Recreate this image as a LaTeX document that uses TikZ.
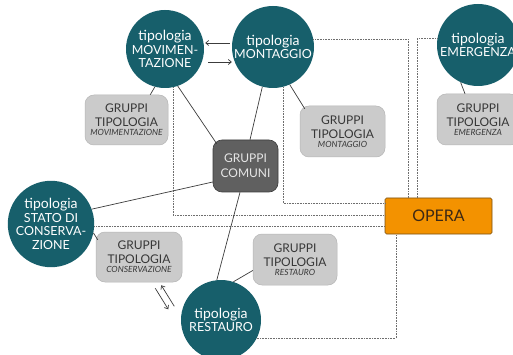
\documentclass[tikz,border=0pt]{standalone}
\usepackage{fontspec}
\setmainfont{Lato}
\usetikzlibrary{arrows.meta}
\definecolor{tealc}{RGB}{23,95,107}
\definecolor{boxgray}{RGB}{203,203,203}
\definecolor{boxedge}{RGB}{182,182,182}
\definecolor{boxtext}{RGB}{55,55,55}
\definecolor{comfill}{RGB}{96,96,96}
\definecolor{comedge}{RGB}{60,60,60}
\definecolor{comtext}{RGB}{230,230,230}
\definecolor{operafill}{RGB}{243,146,0}
\definecolor{operaedge}{RGB}{120,80,20}
\definecolor{operatext}{RGB}{60,40,20}
\definecolor{linkc}{RGB}{60,60,60}
\definecolor{dotc}{RGB}{110,110,110}
\newcommand{\subtxt}[1]{{\fontsize{8.5}{9}\selectfont\itshape #1}}
\newcommand{\tipo}{{\fontsize{14}{14}\selectfont tipologia}}
\begin{document}
\begin{tikzpicture}[x=1pt,y=-1pt,
  circ/.style={circle, fill=tealc, text=white, align=center, inner sep=0pt,
    font=\fontsize{12.5}{13.5}\selectfont},
  gbox/.style={rectangle, rounded corners=9pt, fill=boxgray, draw=boxedge, line width=0.5pt,
    text=boxtext, align=center, inner sep=0pt, font=\fontsize{12}{14}\selectfont},
  combox/.style={rectangle, rounded corners=9pt, fill=comfill, draw=comedge, line width=0.6pt,
    text=comtext, align=center, inner sep=0pt, font=\fontsize{12}{15}\selectfont},
  operabox/.style={rectangle, rounded corners=1.5pt, fill=operafill, draw=operaedge, line width=0.6pt,
    text=operatext, inner sep=0pt, font=\fontsize{16}{18}\selectfont},
  link/.style={draw=linkc, line width=0.7pt},
  dots/.style={draw=dotc, line width=0.5pt, dash pattern=on 0.8pt off 0.8pt},
  arr/.style={link, -{Straight Barb[length=3pt,width=5pt]}}
]
\useasboundingbox (0,0) rectangle (513,355);
\clip (0,0) rectangle (513,355);
\fill[white] (0,0) rectangle (513,355);

% circles
\node[circ, minimum size=78pt] (mov) at (165,49) {\tipo\\MOVIMEN-\\TAZIONE};
\node[circ, minimum size=82pt] (mont) at (273,47) {\tipo\\MONTAGGIO};
\node[circ, minimum size=82pt] (emer) at (478,45) {\tipo\\EMERGENZA};
\node[circ, minimum size=78pt] (stato) at (51,224) {\tipo\\STATO DI\\CONSERVA-\\ZIONE};
\node[circ, minimum size=80pt] (rest) at (221,320) {\tipo\\RESTAURO};

% boxes
\node[gbox, minimum width=83pt, minimum height=50pt] (movbox) at (126.5,120)
  {GRUPPI\\TIPOLOGIA\\[-5pt]\subtxt{MOVIMENTAZIONE}};
\node[gbox, minimum width=85pt, minimum height=51pt] (montbox) at (342.5,131.5)
  {GRUPPI\\TIPOLOGIA\\[-5pt]\subtxt{MONTAGGIO}};
\node[gbox, minimum width=82pt, minimum height=51pt] (emerbox) at (478,119.5)
  {GRUPPI\\TIPOLOGIA\\[-5pt]\subtxt{EMERGENZA}};
\node[gbox, minimum width=86pt, minimum height=50pt] (consbox) at (139,257)
  {GRUPPI\\TIPOLOGIA\\[-5pt]\subtxt{CONSERVAZIONE}};
\node[gbox, minimum width=84pt, minimum height=51pt] (restbox) at (295,259.5)
  {GRUPPI\\TIPOLOGIA\\[-5pt]\subtxt{RESTAURO}};
\node[combox, minimum width=65pt, minimum height=52pt] (comuni) at (245.5,166) {GRUPPI\\COMUNI};
\node[operabox, minimum width=107pt, minimum height=36pt] (opera) at (438.5,216) {OPERA};

% dotted connections to OPERA
\draw[dots] (mont.11) -| ([xshift=-30.5pt]opera.north);
\draw[dots] (emer.171.6) -| ([xshift=-21.5pt]opera.north);
\draw[dots] (mont.-76) |- ([yshift=13pt]opera.west);
\draw[dots] (mov.-78) |- ([yshift=1pt]opera.west);
\draw[dots] (stato.-3) -- (stato.-3 -| opera.west);
\draw[dots] (rest.-27) -| ([xshift=-42.5pt]opera.south);

% solid links
\draw[link] (mov.255) -- ([xshift=-18pt]movbox.north east);
\draw[link] (mov.-71) -- ([shift={(4pt,-4pt)}]comuni.north west);
\draw[link] (mont.255) -- ([xshift=4.5pt]comuni.north);
\draw[link] (mont.-66) -- ([shift={(5pt,-3pt)}]montbox.north west);
\draw[link] (emer.245) -- ([xshift=-13pt]emerbox.north);
\draw[link] (stato.-12) -- ([shift={(2pt,-8pt)}]consbox.north west);
\draw[link] (stato.20) -- ([yshift=-16pt]comuni.west);
\draw[link] ([xshift=-5.5pt]comuni.south) -- (rest.96);
\draw[link] (rest.72) -- ([yshift=-11pt]restbox.west);

% arrows
\draw[arr, shorten <=2pt, shorten >=1pt] ([yshift=4pt]mont.west) -- ([yshift=6pt]mov.east);
\draw[arr, shorten <=4pt] ([yshift=-13pt]mov.east) -- ([yshift=-15pt]mont.west);
\draw[arr] ([shift={(-27pt,-6pt)}]consbox.south east) -- ([shift={(-14pt,-27pt)}]consbox.south east);
\draw[arr] ([shift={(-8pt,-24pt)}]consbox.south east) -- ([shift={(-21pt,-3pt)}]consbox.south east);
\end{tikzpicture}
\end{document}
